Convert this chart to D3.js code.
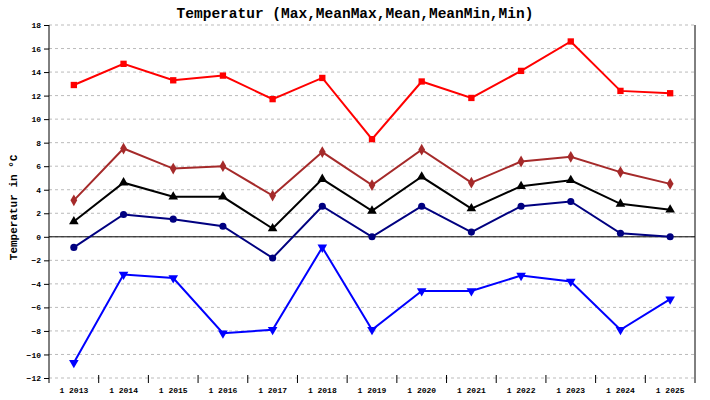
<!DOCTYPE html>
<html><head><meta charset="utf-8">
<script src="https://cdn.jsdelivr.net/npm/d3@7"></script>
<style>body{margin:0;background:#fff}text{font-family:"Liberation Mono","DejaVu Sans Mono",monospace}</style>
</head><body><div id="chart"></div>
<script>
var years = ["1 2013","1 2014","1 2015","1 2016","1 2017","1 2018","1 2019","1 2020","1 2021","1 2022","1 2023","1 2024","1 2025"];
var maxT     = [12.9, 14.7, 13.3, 13.7, 11.7, 13.5, 8.3, 13.2, 11.8, 14.1, 16.6, 12.4, 12.2];
var meanMax  = [3.1, 7.5, 5.8, 6.0, 3.5, 7.2, 4.4, 7.4, 4.6, 6.4, 6.8, 5.5, 4.5];
var meanT    = [1.3, 4.6, 3.4, 3.4, 0.7, 4.9, 2.2, 5.1, 2.4, 4.3, 4.8, 2.8, 2.3];
var meanMin  = [-0.9, 1.9, 1.5, 0.9, -1.8, 2.6, 0.0, 2.6, 0.4, 2.6, 3.0, 0.3, 0.0];
var minT     = [-10.7, -3.2, -3.5, -8.2, -7.9, -0.9, -7.9, -4.6, -4.6, -3.3, -3.8, -7.9, -5.3];
var yTicks   = d3.range(-12, 19, 2);

var series = [
  {v: maxT, color: "#ff0000", sym: d3.symbolSquare, rot: 0},
  {v: meanMax, color: "#a52a2a", sym: d3.symbolDiamond, rot: 0},
  {v: meanT, color: "#000000", sym: d3.symbolTriangle, rot: 0},
  {v: meanMin, color: "#000080", sym: d3.symbolCircle, rot: 0},
  {v: minT, color: "#0000ff", sym: d3.symbolTriangle, rot: 180}
];

var W = 710, H = 400, L = 49, R = 695, T = 25, B = 378;
var svg = d3.select("#chart").append("svg").attr("width", W).attr("height", H);

var x = d3.scaleBand().domain(years).range([L, R]);
var y = d3.scaleLinear().domain([-12, 18]).range([B, T]);

svg.append("g").selectAll("line").data(yTicks).enter().append("line")
  .attr("x1", L).attr("x2", R).attr("y1", y).attr("y2", y)
  .attr("stroke", "#bbb").attr("stroke-dasharray", "3,3");

svg.append("line").attr("x1", L).attr("x2", R).attr("y1", y(0)).attr("y2", y(0)).attr("stroke", "#000");
svg.append("line").attr("x1", R).attr("x2", R).attr("y1", T).attr("y2", B + 5).attr("stroke", "#000");

var ya = svg.append("g").attr("transform", "translate(" + L + ",0)")
  .call(d3.axisLeft(y).tickValues(yTicks).tickSize(5).tickSizeOuter(0));
ya.select(".domain").attr("d", "M0," + T + "V" + (B + 5));
ya.selectAll("text").attr("font-size", 8).attr("font-weight", "bold").attr("font-family", "DejaVu Sans Mono");

// band boundary ticks on x
var xa = svg.append("g");
xa.selectAll("line").data(years.slice(1)).enter().append("line")
  .attr("x1", function(d){ return x(d); }).attr("x2", function(d){ return x(d); })
  .attr("y1", B - 3).attr("y2", B + 5).attr("stroke", "#000");
xa.selectAll("text").data(years).enter().append("text")
  .attr("x", function(d){ return x(d) + x.bandwidth() / 2; }).attr("y", 393)
  .attr("text-anchor", "middle").attr("font-size", 8).attr("font-weight", "bold")
  .attr("font-family", "DejaVu Sans Mono").text(function(d){ return d; });

var line = d3.line().x(function(d, i){ return x(years[i]) + x.bandwidth() / 2; }).y(function(d){ return y(d); });
series.forEach(function(s){
  svg.append("path").datum(s.v).attr("d", line).attr("fill", "none")
    .attr("stroke", s.color).attr("stroke-width", 2);
  svg.append("g").selectAll("path").data(s.v).enter().append("path")
    .attr("d", d3.symbol().type(s.sym).size(40))
    .attr("transform", function(d, i){ return "translate(" + (x(years[i]) + x.bandwidth() / 2) + "," + y(d) + ") rotate(" + s.rot + ")"; })
    .attr("fill", s.color);
});

svg.append("text").attr("x", 355).attr("y", 18).attr("text-anchor", "middle")
  .attr("font-size", 14.5).attr("font-weight", "bold").text("Temperatur (Max,MeanMax,Mean,MeanMin,Min)");
svg.append("text").attr("transform", "translate(17," + y(2.5) + ") rotate(-90)").attr("text-anchor", "middle")
  .attr("font-size", 11).attr("font-weight", "bold").text("Temperatur in °C");
</script></body></html>
